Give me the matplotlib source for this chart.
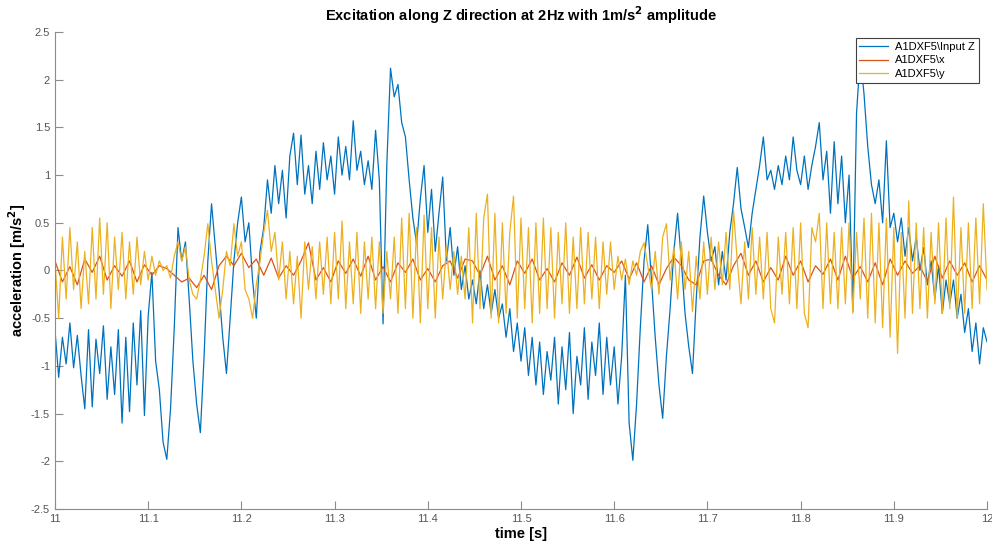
import numpy as np
import matplotlib.pyplot as plt
from matplotlib.ticker import FuncFormatter

plt.rcParams['font.family'] = ['Liberation Sans', 'DejaVu Sans']

# acceleration values, evenly spaced over 11 s .. 12 s
input_z = [
    -0.62, -1.12, -0.70, -0.98, -0.55, -1.02, -0.68, -1.10, -1.45, -0.62,
    -1.43, -0.72, -1.08, -0.58, -1.35, -0.80, -1.30, -0.62, -1.60, -0.70,
    -1.48, -0.55, -1.20, -0.42, -1.52, -0.48, -0.02, -0.95, -1.25, -1.80,
    -1.98, -1.45, -0.60, 0.45, 0.10, 0.30, -0.30, -0.95, -1.40, -1.70,
    -0.90, 0.10, 0.70, 0.25, -0.20, -0.70, -1.08, -0.50, 0.10, 0.50,
    0.77, 0.30, 0.50, -0.10, -0.50, 0.20, 0.45, 0.95, 0.60, 1.10,
    0.70, 1.05, 0.55, 1.20, 1.44, 0.90, 1.42, 0.80, 1.10, 0.70,
    1.25, 0.85, 1.34, 0.95, 1.20, 0.80, 1.40, 1.00, 1.30, 0.95,
    1.57, 1.05, 1.25, 0.90, 1.15, 0.85, 1.47, 0.95, -0.56, 1.10,
    2.12, 1.82, 1.95, 1.55, 1.40, 0.95, 0.55, 0.28, 0.75, 1.10,
    0.40, 0.85, 0.20, 0.60, 0.98, 0.10, 0.45, -0.05, 0.25, -0.20,
    0.05, -0.30, -0.10, -0.35, 0.00, -0.40, -0.15, -0.45, -0.20, -0.50,
    -0.35, -0.70, -0.40, -0.85, -0.55, -0.95, -0.60, -1.10, -0.70, -1.20,
    -0.75, -1.30, -0.85, -1.15, -0.70, -1.40, -0.80, -1.25, -0.65, -1.50,
    -0.90, -1.20, -0.60, -1.35, -0.75, -1.10, -0.55, -1.30, -0.70, -1.20,
    -0.80, -1.40, -0.90, -0.05, -1.60, -1.99, -1.40, -0.60, 0.10, 0.48,
    -0.10, -0.70, -1.20, -1.55, -0.90, -0.40, 0.20, 0.60, 0.10, -0.45,
    -0.80, -1.08, -0.30, 0.35, 0.78, 0.40, 0.10, 0.25, -0.15, 0.20,
    -0.10, 0.40, 0.70, 1.08, 0.65, 0.45, 0.24, 0.60, 0.85, 1.10,
    1.40, 0.95, 1.05, 0.85, 1.10, 0.90, 1.20, 0.95, 1.40, 1.05,
    0.90, 1.20, 0.85, 1.10, 1.30, 1.55, 0.95, 1.25, 0.60, 1.35,
    0.70, 1.20, 0.50, 1.00, -0.43, 1.65, 2.25, 1.85, 1.30, 0.90,
    0.70, 0.95, 0.50, 1.36, 0.45, 0.60, 0.30, 0.55, 0.15, 0.45,
    0.10, 0.35, 0.00, 0.24, -0.15, 0.10, -0.30, 0.05, -0.45, -0.10,
    -0.35, -0.10, -0.50, -0.25, -0.65, -0.40, -0.85, -0.55, -0.98, -0.60, -0.75,
]

acc_x = [
    0.10, -0.12, 0.04, -0.15, 0.12, -0.02, 0.15, -0.10, 0.05, -0.06,
    0.10, -0.12, 0.06, -0.05, 0.05, 0.02, -0.05, -0.12, -0.08, -0.18,
    -0.05, -0.20, 0.05, 0.15, 0.05, 0.18, 0.03, 0.12, -0.05, 0.13,
    -0.08, 0.05, -0.05, 0.10, 0.29, -0.10, 0.03, -0.12, 0.10, -0.03,
    0.12, -0.06, 0.15, -0.10, 0.04, -0.12, 0.08, -0.02, 0.12, -0.10,
    0.02, -0.12, 0.05, 0.10, -0.08, 0.12, 0.10, -0.05, 0.15, -0.10,
    0.05, -0.15, 0.10, -0.03, 0.12, -0.10, 0.02, -0.12, 0.08, -0.05,
    0.14, -0.08, 0.06, -0.10, 0.05, -0.02, 0.10, -0.09, 0.08, -0.12,
    0.05, -0.15, 0.02, 0.14, 0.05, -0.10, -0.15, 0.10, 0.12, -0.05,
    -0.15, 0.05, 0.18, -0.05, 0.10, -0.12, 0.03, -0.10, 0.15, -0.05,
    0.10, -0.12, 0.05, -0.04, 0.12, -0.10, 0.15, -0.08, 0.04, -0.12,
    0.08, -0.15, 0.12, -0.05, 0.10, -0.03, 0.05, -0.12, 0.15, -0.08,
    0.10, -0.05, 0.08, -0.12, 0.05, -0.10,
]

acc_y = [
    0.10, -0.50, 0.35, -0.30, 0.45, -0.20, 0.30, -0.40, 0.20, -0.35,
    0.45, -0.30, 0.55, -0.25, 0.50, -0.40, 0.35, -0.20, 0.40, -0.30,
    0.30, -0.25, 0.35, -0.15, 0.20, -0.10, 0.15, -0.05, 0.10, 0.00,
    0.05, -0.08, 0.15, 0.30, 0.10, 0.25, -0.10, -0.25, -0.30, -0.10,
    0.15, 0.49, 0.10, -0.20, -0.50, -0.20, 0.20, 0.05, 0.49, 0.15,
    0.30, -0.20, -0.30, -0.50, -0.15, 0.10, 0.40, 0.63, 0.20, 0.40,
    -0.10, 0.30, -0.30, 0.20, -0.35, 0.15, -0.50, 0.30, -0.20, 0.25,
    -0.30, 0.30, -0.25, 0.35, -0.35, 0.40, -0.30, 0.52, -0.40, 0.30,
    -0.35, 0.40, -0.45, 0.30, -0.30, 0.35, -0.40, 0.30, -0.45, 0.20,
    -0.30, 0.35, -0.45, 0.55, -0.40, 0.60, -0.50, 0.45, -0.55, 0.58,
    -0.40, 0.45, -0.50, 0.35, -0.30, 0.25, -0.20, 0.20, -0.25, 0.15,
    -0.30, 0.45, -0.55, 0.60, -0.40, 0.55, 0.80, -0.50, 0.60, -0.55,
    0.50, -0.45, 0.40, 0.78, -0.50, 0.55, -0.40, 0.45, -0.55, 0.50,
    -0.45, 0.55, -0.40, 0.45, -0.50, 0.40, -0.35, 0.50, -0.45, 0.35,
    -0.40, 0.45, -0.35, 0.40, -0.30, 0.35, -0.40, 0.30, -0.25, 0.30,
    -0.20, 0.15, -0.10, 0.12, -0.15, 0.10, -0.05, 0.20, 0.29, 0.05,
    -0.20, 0.20, -0.25, 0.35, 0.49, -0.10, 0.25, -0.30, 0.30, -0.20,
    0.20, -0.43, 0.15, -0.30, 0.30, -0.25, 0.35, -0.20, 0.30, -0.15,
    0.40, -0.20, 0.63, 0.10, -0.35, 0.30, -0.30, 0.45, -0.25, 0.35,
    -0.30, 0.40, -0.40, -0.55, 0.35, -0.25, 0.40, -0.35, 0.45, -0.40,
    0.50, -0.45, -0.60, 0.45, 0.30, 0.60, -0.40, 0.50, -0.35, 0.40,
    -0.40, 0.45, -0.35, 0.50, -0.45, 0.40, -0.30, 0.55, -0.50, 0.60,
    -0.55, 0.50, -0.60, 0.55, -0.70, 0.45, -0.87, 0.40, -0.50, 0.73,
    -0.45, 0.50, -0.40, 0.45, -0.50, 0.40, -0.35, 0.50, -0.45, 0.55,
    -0.40, 0.77, -0.50, 0.45, -0.45, 0.50, -0.40, 0.55, -0.35, 0.70, -0.20,
]

labels = ["A1DXF5\\Input Z", "A1DXF5\\x", "A1DXF5\\y"]
colors = ["#0072BD", "#D95319", "#EDB120"]

t_z = np.linspace(11, 12, len(input_z))
t_x = np.linspace(11, 12, len(acc_x))
t_y = np.linspace(11, 12, len(acc_y))

fig = plt.figure(figsize=(9.92, 5.46), dpi=100)
ax = fig.add_axes([0.0554, 0.0678, 0.9396, 0.8736])

ax.plot(t_z, input_z, color=colors[0], lw=0.9, label=labels[0])
ax.plot(t_x, acc_x, color=colors[1], lw=0.9, label=labels[1])
ax.plot(t_y, acc_y, color=colors[2], lw=0.9, label=labels[2])

ax.set_xlim(11, 12)
ax.set_ylim(-2.5, 2.5)
ax.set_xticks(np.arange(11, 12.01, 0.1))
ax.set_yticks(np.arange(-2.5, 2.51, 0.5))
ax.xaxis.set_major_formatter(FuncFormatter(lambda v, p: "%g" % round(v, 2)))
ax.yaxis.set_major_formatter(FuncFormatter(lambda v, p: "%g" % round(v, 2)))

for s in ["top", "right"]:
    ax.spines[s].set_visible(False)
for s in ["left", "bottom"]:
    ax.spines[s].set_color("#8c8c8c")
    ax.spines[s].set_linewidth(0.8)
ax.tick_params(direction="in", length=6, width=0.8, colors="#8c8c8c",
               labelcolor="#555555", labelsize=8)

ax.set_title("Excitation along Z direction at 2Hz with 1m/s$^\\mathbf{2}$ amplitude",
             fontsize=10.5, fontweight="bold", pad=8)
ax.set_xlabel("time [s]", fontsize=10.5, fontweight="bold", labelpad=2)
ax.set_ylabel("acceleration [m/s$^\\mathbf{2}$]", fontsize=10.5, fontweight="bold", labelpad=2)

leg = ax.legend(loc="upper right", bbox_to_anchor=(0.991, 0.987), fontsize=8,
                fancybox=False, framealpha=1, edgecolor="#404040",
                handlelength=2.6, borderpad=0.35, labelspacing=0.3,
                handletextpad=0.6, borderaxespad=0)
leg.get_frame().set_linewidth(0.8)

fig.savefig("out.png", dpi=100)
